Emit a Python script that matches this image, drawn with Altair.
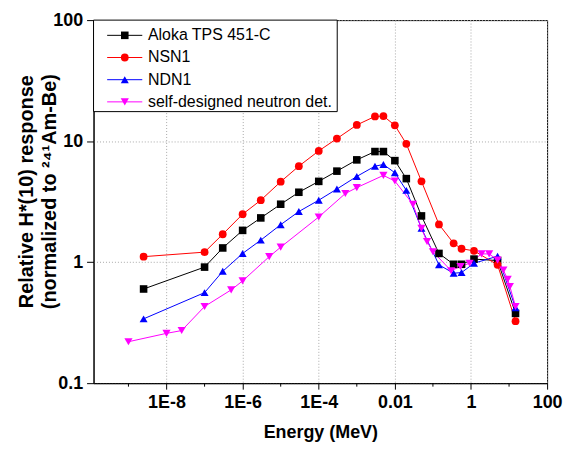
import altair as alt
import pandas as pd

FONT = "Liberation Sans"

series_names = ["Aloka TPS 451-C", "NSN1", "NDN1", "self-designed neutron det."]
series_colors = ["#000000", "#ff0000", "#0000ff", "#ff00ff"]
series_shapes = ["square", "circle", "triangle-up", "triangle-down"]
series_sizes = [58, 68, 100, 100]

energy_common = [2.5e-9, 1e-7, 3e-7, 1e-6, 3e-6, 1e-5, 3e-5, 1e-4, 3e-4, 1e-3,
                 3e-3, 5e-3, 1e-2, 2e-2, 5e-2, 0.144, 0.35, 0.565, 1.2, 5.0, 14.8]
aloka = [0.60, 0.91, 1.31, 1.83, 2.32, 3.01, 3.78, 4.65, 5.65, 7.0,
         8.2, 8.2, 6.9, 4.9, 2.41, 1.18, 0.96, 0.96, 1.06, 1.03, 0.377]
nsn1 = [1.11, 1.21, 1.70, 2.49, 3.25, 4.62, 6.21, 8.3, 10.5, 13.6,
        16.0, 16.1, 13.5, 9.5, 4.65, 2.05, 1.43, 1.29, 1.24, 0.95, 0.325]
ndn1 = [0.34, 0.56, 0.84, 1.18, 1.52, 2.04, 2.62, 3.25, 4.02, 5.11,
        6.21, 6.41, 5.48, 3.92, 1.90, 0.95, 0.81, 0.82, 0.98, 1.12, 0.42]
self_energy = [1e-9, 1e-8, 2.5e-8, 1e-7, 5e-7, 1e-6, 5e-6, 1e-5, 1e-4, 5e-4,
               1e-3, 5e-3, 1e-2, 3e-2, 5e-2, 7e-2, 0.1, 0.3, 0.53, 0.92,
               1.9, 3.0, 5.0, 7.1, 9.2, 10.5, 14.8]
self_det = [0.22, 0.258, 0.272, 0.43, 0.59, 0.70, 1.11, 1.33, 2.36, 3.69,
            4.13, 5.21, 4.68, 3.0, 1.90, 1.48, 1.22, 0.85, 0.92, 0.98,
            1.17, 1.17, 1.04, 0.86, 0.72, 0.63, 0.43]

x_major = [1e-8, 1e-6, 1e-4, 1e-2, 1, 100]
x_minor = [1e-9, 1e-7, 1e-5, 1e-3, 0.1, 10]
y_major = [0.1, 1, 10, 100]

rows = []
for name, xs, ys in [(series_names[0], energy_common, aloka),
                     (series_names[1], energy_common, nsn1),
                     (series_names[2], energy_common, ndn1),
                     (series_names[3], self_energy, self_det)]:
    for e, r in zip(xs, ys):
        rows.append({"series": name, "energy": e, "response": r})
df = pd.DataFrame(rows)

W, H = 456, 365

xscale = alt.Scale(type="log", domain=[1.21e-10, 100], nice=False, zero=False)
yscale = alt.Scale(type="log", domain=[0.1, 100], nice=False, zero=False)
cscale = alt.Scale(domain=series_names, range=series_colors)
shscale = alt.Scale(domain=series_names, range=series_shapes)
szscale = alt.Scale(domain=series_names, range=series_sizes)

x_label_expr = ("datum.value < 0.005 ? '1E-' + format(-log(datum.value) / LN10, '.0f') "
                ": format(datum.value, '~g')")

xaxis = alt.Axis(values=x_major, labelExpr=x_label_expr,
                 tickSize=6, labelPadding=4, labelFontSize=18, labelFontWeight="bold",
                 labelFont=FONT, labelFlush=False, labelOverlap=False,
                 title="Energy (MeV)", titleFontSize=18, titleFontWeight="bold", titleFont=FONT,
                 titlePadding=13,
                 grid=True, gridDash=[1, 2], gridColor="#a8a8a8", gridWidth=1)
yaxis = alt.Axis(values=y_major, labelExpr="format(datum.value, '~g')",
                 tickSize=7, labelPadding=4, labelFontSize=18, labelFontWeight="bold",
                 labelFont=FONT, labelOverlap=False,
                 title=["Relative H*(10) response", "(normalized to  ²⁴¹Am-Be)"],
                 titleFontSize=20, titleFontWeight="bold", titleFont=FONT,
                 titleX=-61, titleY=172, titleBaseline="alphabetic", titleAlign="center",
                 titleAngle=270, titleLineHeight=23,
                 grid=True, gridDash=[1, 2], gridColor="#a8a8a8", gridWidth=1)

base = alt.Chart(df)
lines = base.mark_line(strokeWidth=1).encode(
    x=alt.X("energy:Q", scale=xscale, axis=xaxis),
    y=alt.Y("response:Q", scale=yscale, axis=yaxis),
    color=alt.Color("series:N", scale=cscale, legend=None),
    order="energy:Q",
)
points = base.mark_point(filled=True, opacity=1).encode(
    x=alt.X("energy:Q", scale=xscale, axis=xaxis),
    y=alt.Y("response:Q", scale=yscale, axis=yaxis),
    color=alt.Color("series:N", scale=cscale, legend=None),
    shape=alt.Shape("series:N", scale=shscale, legend=None),
    size=alt.Size("series:N", scale=szscale, legend=None),
)

minor = alt.Chart(pd.DataFrame({"energy": x_minor})).mark_rule(
    color="black", strokeWidth=1).encode(
    x=alt.X("energy:Q", scale=xscale, axis=xaxis),
    y=alt.value(H), y2=alt.value(H + 3.5),
)

# legend
leg_df = pd.DataFrame({"series": series_names, "row": [0, 1, 2, 3]})
leg_base = alt.Chart(leg_df).transform_calculate(ypix="15.3 + datum.row * 22.3")
leg_box = alt.Chart(pd.DataFrame({"a": [0]})).mark_rect(
    fill="white", stroke="black", strokeWidth=1).encode(
    x=alt.value(0), x2=alt.value(245), y=alt.value(0), y2=alt.value(92))
leg_lines = leg_base.mark_rule(strokeWidth=1).encode(
    x=alt.value(13.7), x2=alt.value(49),
    y=alt.Y("ypix:Q", scale=None, axis=None),
    color=alt.Color("series:N", scale=cscale, legend=None),
)
leg_pts = leg_base.mark_point(filled=True, opacity=1).encode(
    x=alt.value(31.4),
    y=alt.Y("ypix:Q", scale=None, axis=None),
    color=alt.Color("series:N", scale=cscale, legend=None),
    shape=alt.Shape("series:N", scale=shscale, legend=None),
    size=alt.Size("series:N", scale=szscale, legend=None),
)
leg_text = leg_base.mark_text(align="left", baseline="middle", fontSize=16, font=FONT,
                              color="black").encode(
    x=alt.value(54.7),
    y=alt.Y("ypix:Q", scale=None, axis=None),
    text="series:N",
)

chart = alt.layer(lines, points, minor, leg_box, leg_lines, leg_pts, leg_text).properties(
    width=W, height=H,
    padding={"left": 86, "top": 11, "right": 20, "bottom": 62},
    autosize=alt.AutoSizeParams(type="none"),
    background="white",
).configure_view(stroke="black", strokeWidth=1).configure_axis(
    domainColor="black", tickColor="black", labelColor="black", titleColor="black",
    domainWidth=1, tickWidth=1,
)

chart.save("out.html", embed_options={"renderer": "svg", "actions": False})
